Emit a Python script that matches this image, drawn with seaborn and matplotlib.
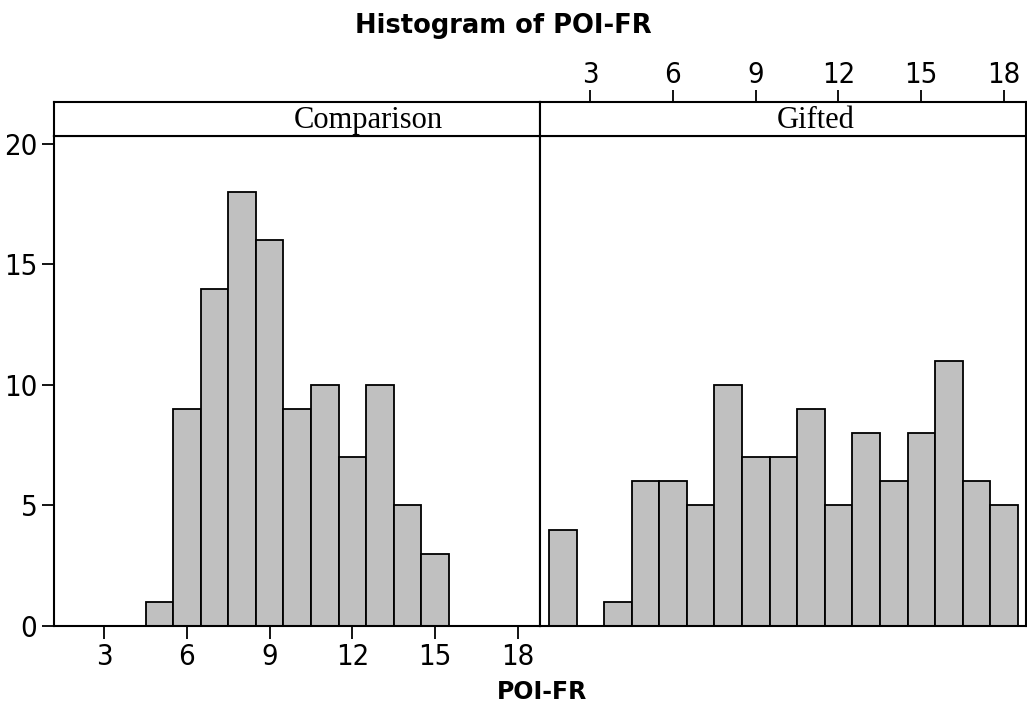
import pandas as pd
import seaborn as sns
import matplotlib.pyplot as plt

sns.set_style("white")
plt.rcParams['text.color'] = 'black'
plt.rcParams['xtick.color'] = 'black'
plt.rcParams['ytick.color'] = 'black'

# bin centres and counts
comparison_x = [5, 6, 7, 8, 9, 10, 11, 12, 13, 14, 15]
comparison_n = [1, 9, 14, 18, 16, 9, 10, 7, 10, 5, 3]
gifted_x = [2, 3, 4, 5, 6, 7, 8, 9, 10, 11, 12, 13, 14, 15, 16, 17, 18]
gifted_n = [4, 0, 1, 6, 6, 5, 10, 7, 7, 9, 5, 8, 6, 8, 11, 6, 5]
x_ticks = [3, 6, 9, 12, 15, 18]
y_ticks = [0, 5, 10, 15, 20]

bar_color = '#C0C0C0'
x_range = (1.18, 18.8)

W, H = 1027, 708
fig = plt.figure(figsize=(W / 100, H / 100), dpi=100)


def px_axes(x0, y0, x1, y1):
    """Axes from pixel box (top-left origin)"""
    return fig.add_axes([x0 / W, 1 - y1 / H, (x1 - x0) / W, (y1 - y0) / H])


def style_ticks(ax, pad):
    ax.tick_params(length=9, width=1.3, color='black', direction='out',
                   labelsize=21, pad=pad)
    for lab in ax.get_xticklabels() + ax.get_yticklabels():
        lab.set_family('DejaVu Sans')
        lab.set_fontstretch('condensed')


def frame(ax):
    for s in ax.spines.values():
        s.set_color('black')
        s.set_linewidth(1.5)


panels = [
    ('Comparison', comparison_x, comparison_n, 54, 540, 0.646, 0.5),
    ('Gifted', gifted_x, gifted_n, 540, 1026, 0.568, 0.494),
]

for i, (name, xs, ns, x0, x1, label_pos, width) in enumerate(panels):
    ax = px_axes(x0, 135.7, x1, 626)
    df = pd.DataFrame({'value': xs, 'count': ns})
    edges = [float(v) - width for v in xs] + [xs[-1] + width]
    sns.histplot(data=df, x='value', weights='count', bins=edges, ax=ax,
                 color=bar_color, edgecolor='black', linewidth=1.3, alpha=1)
    ax.set_xlim(*x_range)
    ax.set_ylim(0, 20.34)
    ax.set_xlabel('')
    ax.set_ylabel('')
    ax.set_xticks(x_ticks)
    ax.set_yticks(y_ticks)
    frame(ax)

    strip = px_axes(x0, 101.7, x1, 135.7)
    strip.set_xlim(*x_range)
    strip.set_yticks([])
    strip.set_facecolor('white')
    frame(strip)
    strip.text(label_pos, 0.45, name, ha='center', va='center',
               fontsize=22, family=['Liberation Serif', 'DejaVu Serif'],
               transform=strip.transAxes)

    if i == 0:
        ax.tick_params(axis='x', bottom=True, labelbottom=True)
        ax.tick_params(axis='y', left=True, labelleft=True)
        strip.set_xticks([])
    else:
        ax.tick_params(axis='x', bottom=False, labelbottom=False)
        ax.tick_params(axis='y', left=False, labelleft=False)
        strip.set_xticks(x_ticks)
        strip.tick_params(axis='x', bottom=False, labelbottom=False,
                          top=True, labeltop=True)
        style_ticks(strip, 0)
    style_ticks(ax, 3)

fig.text(503 / W, 1 - 26 / H, 'Histogram of POI-FR', ha='center', va='center',
         fontsize=18.5, fontweight='bold', family='DejaVu Sans')
fig.text(542 / W, 1 - 692 / H, 'POI-FR', ha='center', va='center',
         fontsize=17, fontweight='bold', family='DejaVu Sans')

fig.savefig('out.png', dpi=100, facecolor='white')
